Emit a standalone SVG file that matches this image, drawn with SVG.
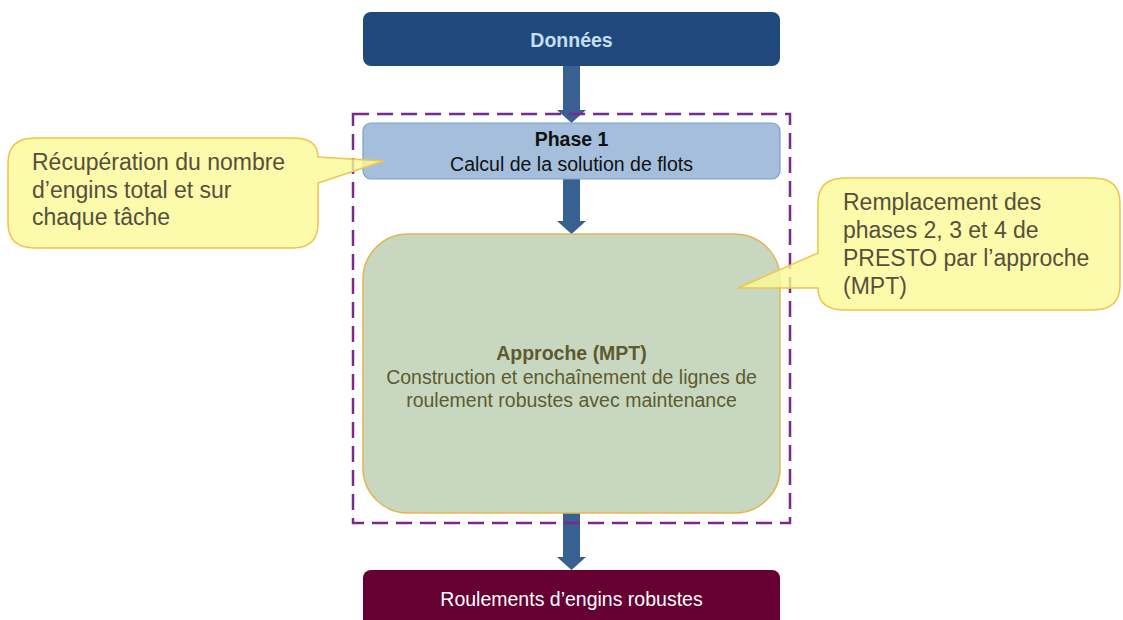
<svg xmlns="http://www.w3.org/2000/svg" width="1123" height="620" viewBox="0 0 1123 620">
<style>
text{font-family:"Liberation Sans",Arial,sans-serif;}
.c{text-anchor:middle;font-size:19.5px;}
.b{font-weight:bold;}
.call{fill:#fafa96;fill-opacity:0.8;stroke:#f2c24a;stroke-width:1.5;}
.ct{font-size:23px;fill:#574f3c;}
.arr{fill:#386090;}
</style>
<rect width="1123" height="620" fill="#ffffff"/>
<g id="connectors">
<path class="arr" d="M563,66 H580 V110 H586 L571.5,123 L557,110 H563 Z"/>
<path class="arr" d="M563,179 H580 V221 H586 L571.5,234 L557,221 H563 Z"/>
<path class="arr" d="M563,513 H580 V557 H586 L571.5,570 L557,557 H563 Z"/>
</g>
<g id="donnees">
<rect x="363" y="12" width="417" height="54" rx="8" fill="#1f497c"/>
<text class="c b" x="571.5" y="47" fill="#c5dff0">Données</text>
</g>
<g id="group-box">
<rect x="353" y="114" width="437" height="409" fill="none" stroke="#7a2a8c" stroke-width="2.5" stroke-dasharray="16,8"/>
</g>
<g id="phase1">
<rect x="363" y="123" width="417" height="56" rx="8" fill="#a4bedc" stroke="#7f9fcb" stroke-width="1.2"/>
<text class="c b" x="571.5" y="146" fill="#111">Phase 1</text>
<text class="c" x="571.5" y="171" fill="#111">Calcul de la solution de flots</text>
</g>
<g id="approche">
<rect x="363" y="234" width="417" height="279" rx="45" fill="#c8d8c0" stroke="#e3b551" stroke-width="1.5"/>
<text class="c b" x="571.5" y="360" fill="#5e5a30">Approche (MPT)</text>
<text class="c" x="571.5" y="384" fill="#5e5a30">Construction et enchaînement de lignes de</text>
<text class="c" x="571.5" y="407" fill="#5e5a30">roulement robustes avec maintenance</text>
</g>
<g id="roulements">
<rect x="363" y="570" width="417" height="60" rx="8" fill="#660033"/>
<text class="c" x="571.5" y="606" fill="#ffffff">Roulements d’engins robustes</text>
</g>
<g id="callout-left">
<path class="call" d="M35,138 H293 Q318,138 318,157 L384,161 L318,183 V223 Q318,248 293,248 H35 Q8,248 8,223 V163 Q8,138 35,138 Z"/>
<text class="ct" x="32" y="170">Récupération du nombre</text>
<text class="ct" x="32" y="197.5">d’engins total et sur</text>
<text class="ct" x="32" y="225">chaque tâche</text>
</g>
<g id="callout-right">
<path class="call" d="M845,178 H1093 Q1120,178 1120,203 V285 Q1120,310 1093,310 H845 Q818,310 818,288 L738,288 L818,253 V203 Q818,178 845,178 Z"/>
<text class="ct" x="843" y="210">Remplacement des</text>
<text class="ct" x="843" y="238">phases 2, 3 et 4 de</text>
<text class="ct" x="843" y="266">PRESTO par l’approche</text>
<text class="ct" x="843" y="294">(MPT)</text>
</g>
</svg>
